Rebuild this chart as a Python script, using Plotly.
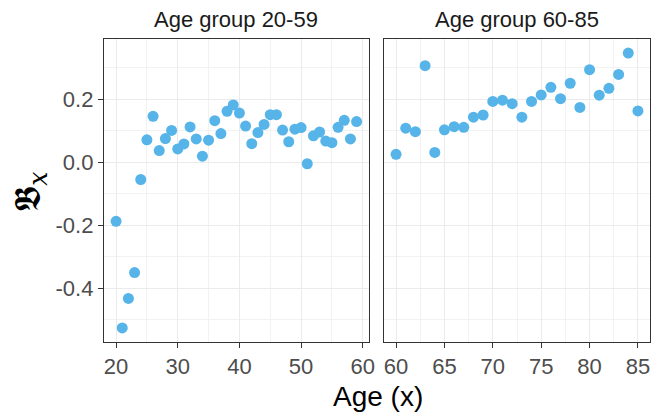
import plotly.graph_objects as go

ages_young = list(range(20, 60))
bx_young = [-0.188, -0.527, -0.433, -0.351, -0.055, 0.071, 0.146, 0.037, 0.075, 0.101,
            0.042, 0.058, 0.112, 0.074, 0.019, 0.070, 0.132, 0.091, 0.162, 0.182,
            0.156, 0.115, 0.059, 0.094, 0.120, 0.151, 0.151, 0.102, 0.065, 0.105,
            0.110, -0.005, 0.084, 0.096, 0.067, 0.062, 0.111, 0.133, 0.074, 0.129]
ages_old = list(range(60, 86))
bx_old = [0.025, 0.108, 0.097, 0.307, 0.031, 0.103, 0.113, 0.111, 0.143, 0.150,
          0.193, 0.197, 0.186, 0.143, 0.193, 0.214, 0.238, 0.202, 0.251, 0.174,
          0.294, 0.213, 0.235, 0.279, 0.347, 0.163]

panel_titles = ["Age group 20-59", "Age group 60-85"]
y_ticks = [-0.4, -0.2, 0.0, 0.2]
y_ticklabels = ["-0.4", "-0.2", "0.0", "0.2"]
x_ticks_young = [20, 30, 40, 50, 60]
x_ticks_old = [60, 65, 70, 75, 80, 85]

POINT = "#56B4E9"
GRID = "#EBEBEB"
MINOR = "#F2F2F2"
BORDER = "#333333"
TICKTXT = "#4D4D4D"
FONT = "Liberation Sans, Arial, sans-serif"

fig = go.Figure()
fig.add_trace(go.Scatter(x=ages_young, y=bx_young, mode="markers", xaxis="x", yaxis="y",
                         marker=dict(color=POINT, size=11), showlegend=False))
fig.add_trace(go.Scatter(x=ages_old, y=bx_old, mode="markers", xaxis="x2", yaxis="y2",
                         marker=dict(color=POINT, size=11), showlegend=False))

ylo, yhi = min(bx_young + bx_old), max(bx_young + bx_old)
ypad = 0.05 * (yhi - ylo)
yr = [ylo - ypad, yhi + ypad]

def xr(a):
    p = 0.05 * (max(a) - min(a))
    return [min(a) - p, max(a) + p]

common = dict(showline=True, mirror=True, linecolor=BORDER, linewidth=1.4,
              showgrid=True, gridcolor=GRID, gridwidth=1.4, zeroline=False,
              ticklen=5, tickwidth=1.4, tickcolor=BORDER,
              tickfont=dict(family=FONT, size=22, color=TICKTXT))

y_minor = dict(tickvals=[-0.5, -0.3, -0.1, 0.1, 0.3], showgrid=True, gridcolor=MINOR, gridwidth=0.7, ticks="")

dom_x1 = [105 / 659, 372 / 659]
dom_x2 = [387.5 / 659, 656 / 659]
domain_y = [1 - 341.7 / 412, 1 - 39.3 / 412]

fig.update_layout(
    width=659, height=412, margin=dict(l=0, r=0, t=0, b=0),
    paper_bgcolor="white", plot_bgcolor="white",
    font=dict(family=FONT),
    xaxis=dict(domain=dom_x1, range=xr(ages_young), tickvals=x_ticks_young, ticks="outside",
               minor=dict(tickvals=[25, 35, 45, 55], showgrid=True, gridcolor=MINOR, gridwidth=0.7, ticks=""),
               anchor="y", **common),
    xaxis2=dict(domain=dom_x2, range=xr(ages_old), tickvals=x_ticks_old, ticks="outside",
                minor=dict(tickvals=[62.5, 67.5, 72.5, 77.5, 82.5], showgrid=True, gridcolor=MINOR, gridwidth=0.7, ticks=""),
                anchor="y2", **common),
    yaxis=dict(domain=domain_y, range=yr, tickvals=y_ticks, ticktext=y_ticklabels, ticks="outside",
               minor=y_minor, anchor="x", **common),
    yaxis2=dict(domain=domain_y, range=yr, tickvals=y_ticks, showticklabels=False, ticks="",
                minor=y_minor, anchor="x2", **common),
)

for t, dom in zip(panel_titles, [dom_x1, dom_x2]):
    fig.add_annotation(text=t, xref="paper", yref="paper", x=(dom[0] + dom[1]) / 2, y=1 - 20 / 412,
                       showarrow=False, font=dict(family=FONT, size=22, color="#1A1A1A"),
                       xanchor="center", yanchor="middle")

fig.add_annotation(text="Age (x)", xref="paper", yref="paper", x=381 / 659, y=1 - 396 / 412,
                   showarrow=False, font=dict(family=FONT, size=28, color="black"),
                   xanchor="center", yanchor="middle")
fig.add_annotation(text="𝕭<sub><i>x</i></sub>", xref="paper", yref="paper", x=30 / 659, y=1 - 192 / 412,
                   showarrow=False, textangle=-90, font=dict(family="DejaVu Serif, serif", size=36, color="black"),
                   xanchor="center", yanchor="middle")

fig.write_html("out.html", config={"displayModeBar": False},
               post_script="document.body.style.margin='0';document.body.style.overflow='hidden';")
